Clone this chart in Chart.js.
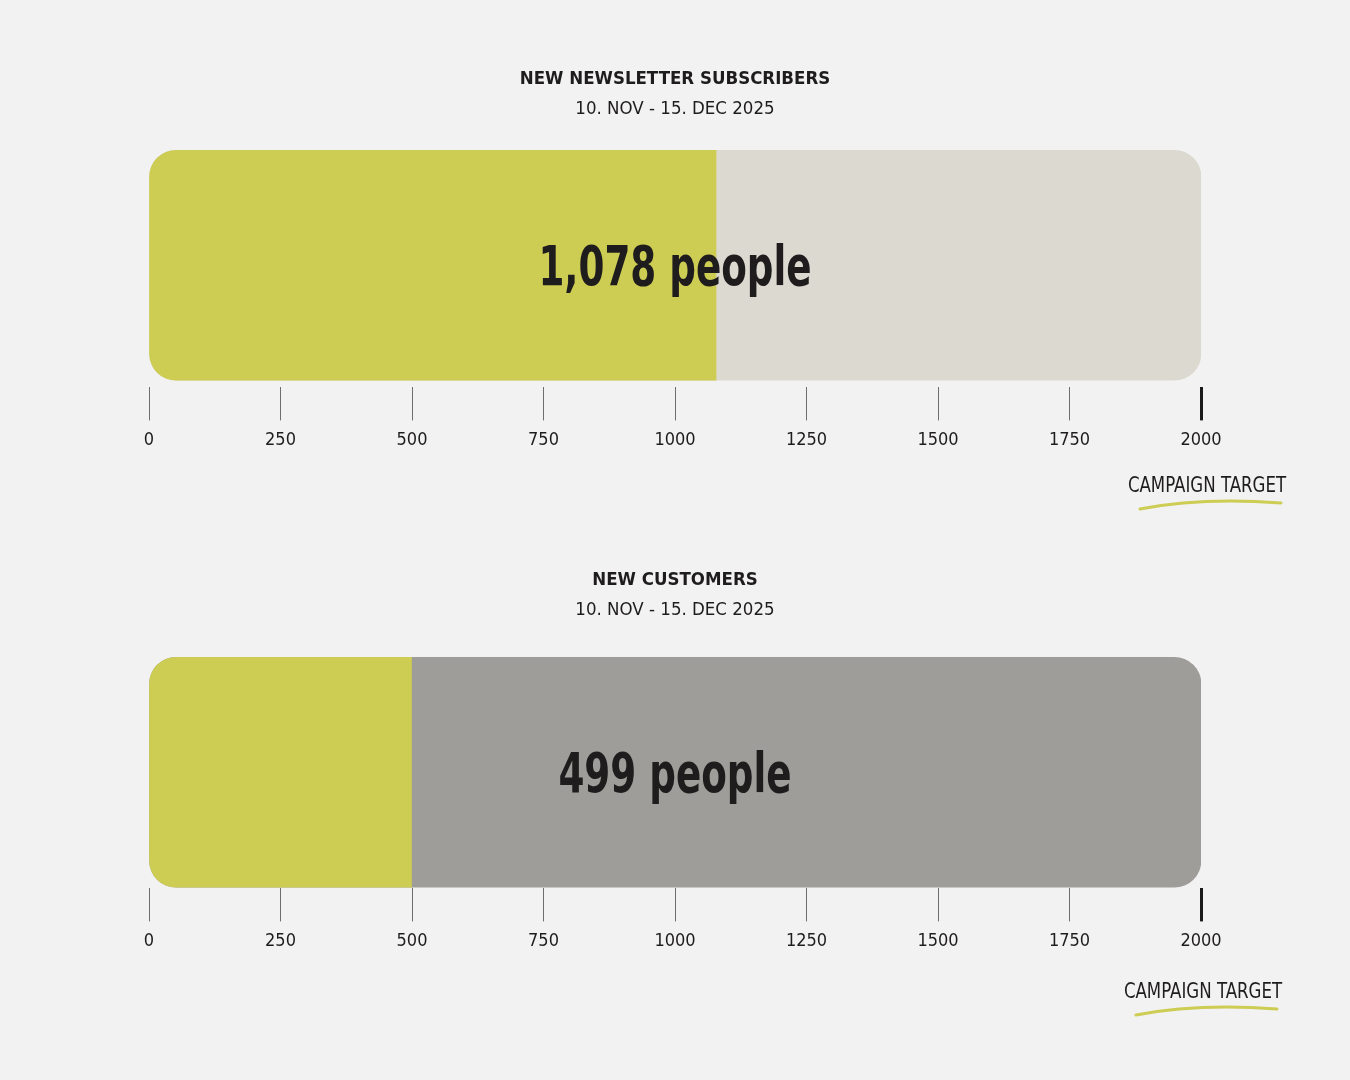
<!DOCTYPE html>
<html>
<head>
<meta charset="utf-8">
<script src="https://cdn.jsdelivr.net/npm/chart.js@4.4.1/dist/chart.umd.min.js"></script>
<style>
  html, body { margin: 0; padding: 0; background: #f2f2f2; }
  body { width: 1350px; height: 1080px; position: relative; overflow: hidden; }
  .panel { position: absolute; left: 0; width: 1350px; height: 540px; }
</style>
</head>
<body>
<div class="panel" style="top:0"><canvas id="chart1" width="1350" height="540"></canvas></div>
<div class="panel" style="top:501px"><canvas id="chart2" width="1350" height="540"></canvas></div>
<script>
// values
const chartTitles = ['NEW NEWSLETTER SUBSCRIBERS', 'NEW CUSTOMERS'];
const periodLabels = ['10. NOV - 15. DEC 2025', '10. NOV - 15. DEC 2025'];
const achieved = [1078, 499];
const campaignTarget = [2000, 2000];
const axisMin = 0;
const axisMax = 2000;
const tickStep = 250;
const unitLabel = 'people';
const targetLabel = 'CAMPAIGN TARGET';

const FONT = "'DejaVu Sans Condensed', 'Liberation Sans Narrow', 'Roboto', sans-serif";
const INK = '#1f1c1d';
const LIME = '#cdcc53';
const trackColors = ['#dcd9d1', '#9e9d99'];

// narrow-ish text for the hand drawn labels
function squeezeText(ctx, text, x, y, sx) {
  ctx.save();
  ctx.translate(x, y);
  ctx.scale(sx, 1);
  ctx.fillText(text, 0, 0);
  ctx.restore();
}

// big centred value + "campaign target" note with a swoosh under it
const progressLabels = {
  id: 'progressLabels',
  afterDatasetsDraw(chart, args, opts) {
    const { ctx, chartArea, scales } = chart;
    const bar = chart.getDatasetMeta(0).data[0];
    ctx.save();
    ctx.fillStyle = INK;
    ctx.textAlign = 'center';
    ctx.textBaseline = 'middle';
    ctx.font = 'bold 56px ' + FONT;
    const cx = (chartArea.left + chartArea.right) / 2;
    squeezeText(ctx, opts.value.toLocaleString('en-US') + ' ' + unitLabel, cx, bar.y + 5, 0.74);

    const tx = scales.x.getPixelForValue(opts.target) + opts.dx;
    ctx.font = '21px ' + FONT;
    squeezeText(ctx, targetLabel, tx, opts.y, 0.88);

    ctx.strokeStyle = LIME;
    ctx.lineWidth = 3;
    ctx.lineCap = 'round';
    ctx.beginPath();
    ctx.moveTo(tx - 67, opts.y + 22);
    ctx.quadraticCurveTo(tx - 5, opts.y + 10, tx + 74, opts.y + 16);
    ctx.stroke();
    ctx.restore();
  }
};

function makeChart(id, i, subtitleGap, noteDx, noteY) {
  return new Chart(document.getElementById(id), {
    type: 'bar',
    data: {
      labels: [''],
      datasets: [
        {
          data: [achieved[i]],
          backgroundColor: LIME,
          borderRadius: { topLeft: 27, bottomLeft: 27, topRight: 0, bottomRight: 0 },
          borderSkipped: false,
          barThickness: 230,
          order: 0
        },
        {
          data: [campaignTarget[i]],
          backgroundColor: trackColors[i],
          borderRadius: 27,
          borderSkipped: false,
          barThickness: 230,
          order: 1
        }
      ]
    },
    options: {
      indexAxis: 'y',
      responsive: false,
      animation: false,
      layout: { padding: { left: 149, right: 149, top: 0, bottom: 80 } },
      datasets: { bar: { grouped: false } },
      scales: {
        y: { display: false },
        x: {
          min: axisMin,
          max: axisMax,
          border: { display: false },
          grid: {
            drawOnChartArea: false,
            drawTicks: true,
            tickLength: 33,
            color: c => c.tick && c.tick.value === axisMax ? '#1a1a1a' : '#6e6e6e',
            lineWidth: c => c.tick && c.tick.value === axisMax ? 3 : 1
          },
          ticks: {
            stepSize: tickStep,
            padding: 9,
            color: INK,
            maxRotation: 0,
            font: { family: FONT, size: 18 },
            callback: v => String(v)
          }
        }
      },
      plugins: {
        legend: { display: false },
        tooltip: { enabled: false },
        title: {
          display: true,
          text: chartTitles[i],
          color: INK,
          font: { family: FONT, size: 18.5, weight: 'bold', lineHeight: 1.2 },
          padding: { top: 68, bottom: 7.7 }
        },
        subtitle: {
          display: true,
          text: periodLabels[i],
          color: INK,
          font: { family: FONT, size: 18.5, lineHeight: 1.2 },
          padding: { top: 0, bottom: subtitleGap }
        },
        progressLabels: { value: achieved[i], target: campaignTarget[i], dx: noteDx, y: noteY }
      }
    },
    plugins: [progressLabels]
  });
}

makeChart('chart1', 0, 23, 6, 487);
makeChart('chart2', 1, 35, 2, 492);
</script>
</body>
</html>
